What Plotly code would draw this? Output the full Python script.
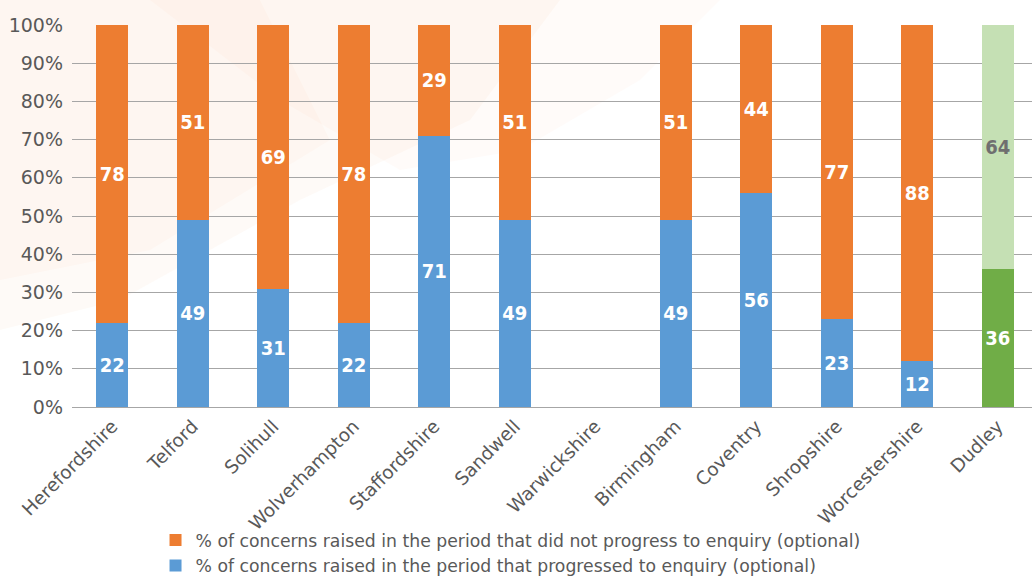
import plotly.graph_objects as go

areas = ["Herefordshire", "Telford", "Solihull", "Wolverhampton", "Staffordshire",
         "Sandwell", "Warwickshire", "Birmingham", "Coventry", "Shropshire",
         "Worcestershire", "Dudley"]

# % of concerns that did not progress to enquiry (Dudley drawn separately)
not_progressed = [78, 51, 69, 78, 29, 51, None, 51, 44, 77, 88, None]
# % of concerns that progressed to enquiry
progressed = [22, 49, 31, 22, 71, 49, None, 49, 56, 23, 12, None]

dudley_progressed = [36]
dudley_not_progressed = [64]

FONT = "DejaVu Sans"
BOLD_FONT = "DejaVu Sans Condensed"
GREY = "#595959"
ORANGE = "#ED7D31"
BLUE = "#5B9BD5"
GREEN_DARK = "#70AD47"
GREEN_LIGHT = "#C5E0B4"


def labels(values):
    return ["" if v is None else str(v) for v in values]


label_font = dict(family=BOLD_FONT, size=20, color="white", weight="bold")
common = dict(textposition="inside", insidetextanchor="middle", textangle=0,
              texttemplate="%{text}", constraintext="none")

fig = go.Figure()

fig.add_trace(go.Bar(
    x=areas, y=progressed, text=labels(progressed),
    name="% of concerns raised in the period that progressed to enquiry (optional)",
    marker=dict(color=BLUE, line=dict(width=0)), legendrank=2,
    textfont=label_font, **common,
))
fig.add_trace(go.Bar(
    x=areas, y=not_progressed, text=labels(not_progressed),
    name="% of concerns raised in the period that did not progress to enquiry (optional)",
    marker=dict(color=ORANGE, line=dict(width=0)), legendrank=1,
    textfont=label_font, **common,
))
fig.add_trace(go.Bar(
    x=["Dudley"], y=dudley_progressed, text=labels(dudley_progressed), showlegend=False,
    marker=dict(color=GREEN_DARK, line=dict(width=0)),
    textfont=label_font, **common,
))
fig.add_trace(go.Bar(
    x=["Dudley"], y=dudley_not_progressed, text=labels(dudley_not_progressed), showlegend=False,
    marker=dict(color=GREEN_LIGHT, line=dict(width=0)),
    textfont=dict(family=BOLD_FONT, size=20, color="#6f6f6f", weight="bold"), **common,
))

# soft peach wash behind the upper-left of the page (page pixel coordinates)
PLOT_L, PLOT_W, PLOT_B, PLOT_H = 72, 960, 407, 382
wash = [
    ([(0, 0), (560, 0), (470, 120), (300, 200), (120, 300), (0, 330)], 0.05),
    ([(150, 0), (720, 0), (640, 80), (520, 150), (400, 170), (280, 100)], 0.04),
    ([(0, 0), (260, 0), (330, 140), (150, 250), (0, 280)], 0.04),
]
shapes = []
for pts, a in wash:
    path = " ".join(
        f"{'M' if i == 0 else 'L'} {(px - PLOT_L) / PLOT_W:.4f} {(PLOT_B - py) / PLOT_H:.4f}"
        for i, (px, py) in enumerate(pts)
    ) + " Z"
    shapes.append(dict(type="path", xref="paper", yref="paper", path=path,
                       fillcolor=f"rgba(245,165,90,{a})", line=dict(width=0), layer="below"))

fig.update_layout(
    width=1032, height=576,
    margin=dict(l=72, r=0, t=25, b=169, autoexpand=False),
    barmode="stack", bargap=0.6,
    paper_bgcolor="white", plot_bgcolor="rgba(0,0,0,0)",
    font=dict(family=FONT, size=18, color=GREY),
    shapes=shapes,
    showlegend=True,
    legend=dict(
        orientation="v", traceorder="normal",
        x=0.087, xanchor="left", y=-0.302, yanchor="top",
        font=dict(family=FONT, size=17.25, color=GREY),
        tracegroupgap=0, bgcolor="rgba(0,0,0,0)",
    ),
)
fig.update_xaxes(
    type="category", categoryorder="array", categoryarray=areas,
    range=[-0.5, 11.425], tickangle=-45, showgrid=False,
    tickfont=dict(family=FONT, size=18.5, color=GREY), ticks="", showline=False,
    ticklabelstandoff=4, automargin=False,
)
fig.update_yaxes(
    range=[0, 100], dtick=10, ticksuffix="%", showgrid=True, gridcolor="#a6a6a6",
    gridwidth=1, zeroline=True, zerolinecolor="#a6a6a6", zerolinewidth=1,
    tickfont=dict(family=FONT, size=19, color=GREY), ticks="", ticklabelstandoff=8,
    automargin=False,
)

fig.write_html("out.html")
